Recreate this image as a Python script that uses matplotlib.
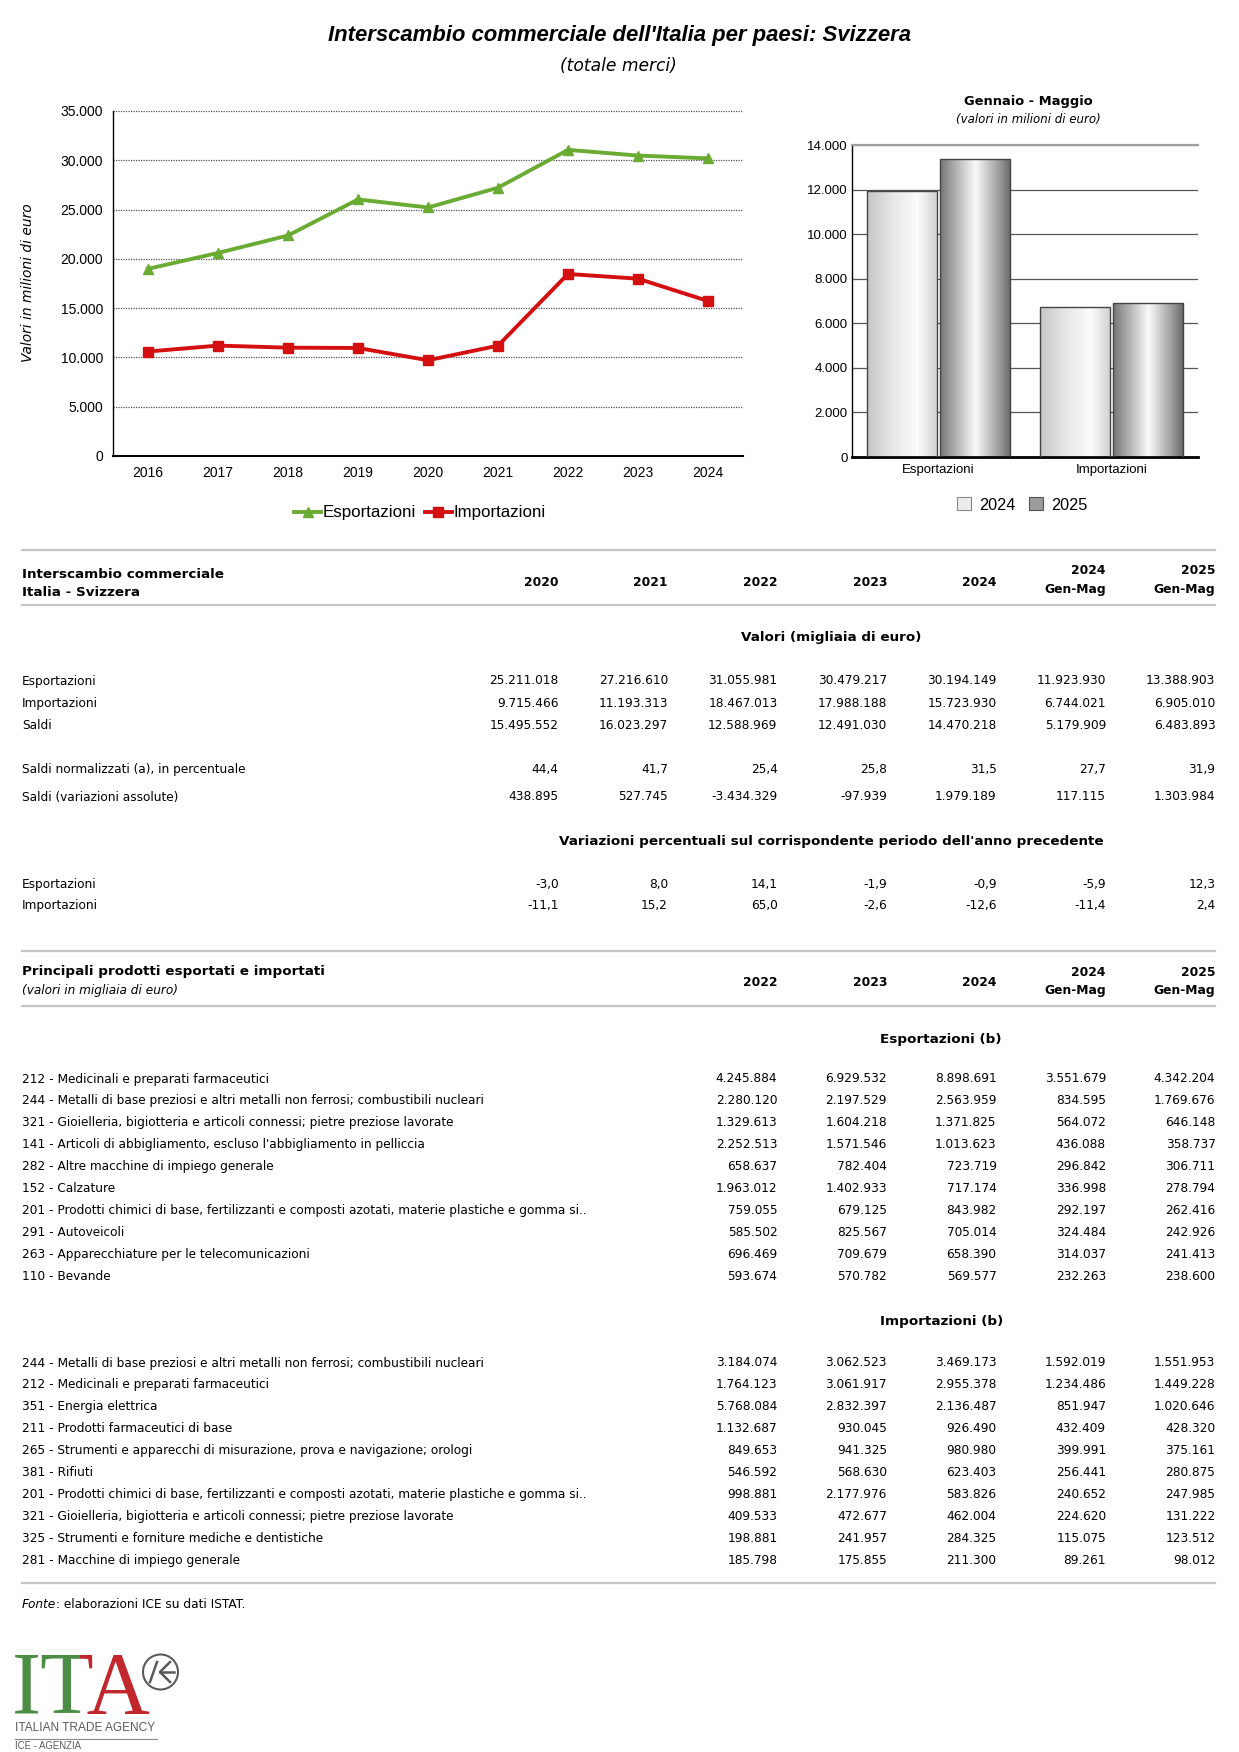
import matplotlib
matplotlib.use("Agg")
import matplotlib.pyplot as plt
import numpy as np
from matplotlib import font_manager
from matplotlib.colors import LinearSegmentedColormap
from matplotlib.patches import Patch, Circle
from matplotlib.lines import Line2D
from matplotlib.ticker import FuncFormatter, MultipleLocator
from matplotlib.transforms import Bbox, TransformedBbox

# ---- dati grafico a linee (milioni di euro) ----
anni = [2016, 2017, 2018, 2019, 2020, 2021, 2022, 2023, 2024]
esp_milioni = [18990, 20600, 22370, 26030, 25211, 27217, 31056, 30479, 30194]
imp_milioni = [10600, 11200, 10990, 10960, 9715, 11193, 18467, 17988, 15724]

# ---- dati grafico a barre Gennaio - Maggio (milioni di euro) ----
flussi = ["Esportazioni", "Importazioni"]
gm_2024 = [11924, 6744]
gm_2025 = [13389, 6905]

# ---- tabella interscambio (migliaia di euro) ----
col_anni = ["2020", "2021", "2022", "2023", "2024", "2024", "2025"]
col_gm = ["", "", "", "", "", "Gen-Mag", "Gen-Mag"]
esportazioni = [25211018, 27216610, 31055981, 30479217, 30194149, 11923930, 13388903]
importazioni = [9715466, 11193313, 18467013, 17988188, 15723930, 6744021, 6905010]
saldi = [15495552, 16023297, 12588969, 12491030, 14470218, 5179909, 6483893]
saldi_norm = [44.4, 41.7, 25.4, 25.8, 31.5, 27.7, 31.9]
saldi_var = [438895, 527745, -3434329, -97939, 1979189, 117115, 1303984]
var_esp = [-3.0, 8.0, 14.1, -1.9, -0.9, -5.9, 12.3]
var_imp = [-11.1, 15.2, 65.0, -2.6, -12.6, -11.4, 2.4]

# ---- principali prodotti (migliaia di euro): 2022, 2023, 2024, 2024 GM, 2025 GM ----
prod_esp = [
    "212 - Medicinali e preparati farmaceutici",
    "244 - Metalli di base preziosi e altri metalli non ferrosi; combustibili nucleari",
    "321 - Gioielleria, bigiotteria e articoli connessi; pietre preziose lavorate",
    "141 - Articoli di abbigliamento, escluso l'abbigliamento in pelliccia",
    "282 - Altre macchine di impiego generale",
    "152 - Calzature",
    "201 - Prodotti chimici di base, fertilizzanti e composti azotati, materie plastiche e gomma si..",
    "291 - Autoveicoli",
    "263 - Apparecchiature per le telecomunicazioni",
    "110 - Bevande",
]
val_esp = [
    [4245884, 6929532, 8898691, 3551679, 4342204],
    [2280120, 2197529, 2563959, 834595, 1769676],
    [1329613, 1604218, 1371825, 564072, 646148],
    [2252513, 1571546, 1013623, 436088, 358737],
    [658637, 782404, 723719, 296842, 306711],
    [1963012, 1402933, 717174, 336998, 278794],
    [759055, 679125, 843982, 292197, 262416],
    [585502, 825567, 705014, 324484, 242926],
    [696469, 709679, 658390, 314037, 241413],
    [593674, 570782, 569577, 232263, 238600],
]
prod_imp = [
    "244 - Metalli di base preziosi e altri metalli non ferrosi; combustibili nucleari",
    "212 - Medicinali e preparati farmaceutici",
    "351 - Energia elettrica",
    "211 - Prodotti farmaceutici di base",
    "265 - Strumenti e apparecchi di misurazione, prova e navigazione; orologi",
    "381 - Rifiuti",
    "201 - Prodotti chimici di base, fertilizzanti e composti azotati, materie plastiche e gomma si..",
    "321 - Gioielleria, bigiotteria e articoli connessi; pietre preziose lavorate",
    "325 - Strumenti e forniture mediche e dentistiche",
    "281 - Macchine di impiego generale",
]
val_imp = [
    [3184074, 3062523, 3469173, 1592019, 1551953],
    [1764123, 3061917, 2955378, 1234486, 1449228],
    [5768084, 2832397, 2136487, 851947, 1020646],
    [1132687, 930045, 926490, 432409, 428320],
    [849653, 941325, 980980, 399991, 375161],
    [546592, 568630, 623403, 256441, 280875],
    [998881, 2177976, 583826, 240652, 247985],
    [409533, 472677, 462004, 224620, 131222],
    [198881, 241957, 284325, 115075, 123512],
    [185798, 175855, 211300, 89261, 98012],
]


def fmt_int(v):
    return f"{v:,}".replace(",", ".")


def fmt_dec(v):
    return f"{v:.1f}".replace(".", ",")


W, H = 1239, 1752


def fx(x):
    return x / W


def fy(y):
    return 1 - y / H


nomi = {f.name for f in font_manager.fontManager.ttflist}
TITLE_FONT = "Liberation Sans Narrow" if "Liberation Sans Narrow" in nomi else "Liberation Sans"
CHART_FONT = "Liberation Sans"
TAB_FONT = "DejaVu Sans"
FS = 8.7      # testo normale tabella
FSB = 9.7     # titoli in grassetto (il Verdana bold e' piu' largo)
FSH = 8.9     # intestazioni colonne

fig = plt.figure(figsize=(W / 100, H / 100), dpi=100)
fig.patch.set_facecolor("white")

# titolo
fig.text(fx(619), fy(35), "Interscambio commerciale dell'Italia per paesi: Svizzera",
         ha="center", va="center", fontsize=15.9, fontweight="bold", style="italic",
         family=TITLE_FONT)
fig.text(fx(618), fy(66), "(totale merci)", ha="center", va="center", fontsize=12.3,
         style="italic", family=TAB_FONT)

milesimi = FuncFormatter(lambda v, p: fmt_int(int(v)))

# ---- grafico a linee ----
VERDE_L, ROSSO_L = "#6aab34", "#d40f0f"
ax = fig.add_axes([fx(113), fy(456), (743 - 113) / W, (456 - 111) / H])
x = np.arange(len(anni))
ax.plot(x, esp_milioni, color=VERDE_L, lw=2.8, marker="^", ms=7.5, label="Esportazioni", zorder=3)
ax.plot(x, imp_milioni, color=ROSSO_L, lw=2.8, marker="s", ms=6.5, label="Importazioni", zorder=3)
ax.set_xlim(-0.5, 8.5)
ax.set_ylim(0, 35000)
ax.yaxis.set_major_locator(MultipleLocator(5000))
ax.yaxis.set_major_formatter(milesimi)
ax.set_xticks(x)
ax.set_xticklabels([str(a) for a in anni])
ax.grid(axis="y", color="#555555", lw=0.9, linestyle=(0, (1, 1)))
ax.set_axisbelow(True)
for s in ["top", "right"]:
    ax.spines[s].set_visible(False)
ax.spines["left"].set_linewidth(1.0)
ax.spines["bottom"].set_linewidth(1.5)
ax.tick_params(axis="both", length=0, labelsize=10)
ax.tick_params(axis="y", pad=7)
ax.tick_params(axis="x", pad=7)
for lab in ax.get_xticklabels() + ax.get_yticklabels():
    lab.set_family(CHART_FONT)
fig.text(fx(28), fy(283), "Valori in milioni di euro", rotation=90, ha="center", va="center",
         fontsize=9.9, style="italic", family=TAB_FONT)
h_lin = [Line2D([], [], color=VERDE_L, lw=2.8, marker="^", ms=7.5),
         Line2D([], [], color=ROSSO_L, lw=2.8, marker="s", ms=6.5)]
fig.legend(h_lin, ["Esportazioni", "Importazioni"], loc="center", bbox_to_anchor=(fx(420), fy(513)),
           ncol=2, frameon=False, handlelength=1.6, handletextpad=0.1, columnspacing=0.5,
           prop={"family": CHART_FONT, "size": 12.2})

# ---- grafico a barre ----
bx = fig.add_axes([fx(852), fy(457), (1198 - 852) / W, (457 - 145) / H])
xb = np.arange(len(flussi))
w = 0.406
cm24 = LinearSegmentedColormap.from_list(
    "g24", [(0, "#c6c6c6"), (0.35, "#e6e6e6"), (0.72, "#fcfcfc"), (1, "#cfcfcf")])
cm25 = LinearSegmentedColormap.from_list(
    "g25", [(0, "#767676"), (0.18, "#a6a6a6"), (0.5, "#fafafa"), (0.82, "#a0a0a0"), (1, "#686868")])
grad = np.linspace(0, 1, 256).reshape(1, -1)
for vals, off, cm in [(gm_2024, -0.209, cm24), (gm_2025, 0.209, cm25)]:
    bars = bx.bar(xb + off, vals, w, facecolor="none", edgecolor="#444444", lw=1.0, zorder=3)
    for b in bars:
        im = bx.imshow(grad, cmap=cm, aspect="auto", zorder=2.5,
                       extent=[b.get_x(), b.get_x() + b.get_width(), 0, b.get_height()])
        im.set_clip_path(b)
bx.set_xlim(-0.5, 1.5)
bx.set_ylim(0, 14000)
bx.yaxis.set_major_locator(MultipleLocator(2000))
bx.yaxis.set_major_formatter(milesimi)
bx.set_xticks(xb)
bx.set_xticklabels(flussi)
bx.grid(axis="y", color="#555555", lw=0.9)
bx.set_axisbelow(True)
bx.spines["right"].set_visible(False)
bx.spines["top"].set_color("#a0a0a0")
bx.spines["top"].set_linewidth(1.6)
bx.spines["left"].set_linewidth(1.0)
bx.spines["bottom"].set_linewidth(2.0)
bx.tick_params(axis="both", length=0, labelsize=9.5)
bx.tick_params(axis="y", pad=3)
bx.tick_params(axis="x", pad=5)
for lab in bx.get_xticklabels() + bx.get_yticklabels():
    lab.set_family(CHART_FONT)
fig.text(fx(1028), fy(101), "Gennaio - Maggio", ha="center", va="center", fontsize=9.4,
         fontweight="bold", family=TAB_FONT)
fig.text(fx(1028), fy(119.5), "(valori in milioni di euro)", ha="center", va="center",
         fontsize=8.5, style="italic", family=TAB_FONT)
h_bar = [Patch(facecolor="#ececec", edgecolor="#888888", lw=0.8),
         Patch(facecolor="#9c9c9c", edgecolor="#555555", lw=0.8)]
fig.legend(h_bar, ["2024", "2025"], loc="center", bbox_to_anchor=(fx(1022), fy(505)), ncol=2,
           frameon=False, handlelength=0.86, handleheight=0.86, handletextpad=0.5,
           columnspacing=0.86, prop={"family": CHART_FONT, "size": 11.7})

# ---- tabelle ----
TAB_L, TAB_R = 22, 1215
col_r = [558.5 + 109.5 * i for i in range(7)]
LINE_C = "#c6c6c6"


def riga(y):
    fig.add_artist(Line2D([fx(TAB_L), fx(TAB_R)], [fy(y), fy(y)], color=LINE_C, lw=1.6))


def testo(x, y, s, ha="left", size=FS, **kw):
    return fig.text(fx(x), fy(y), s, ha=ha, va="center", fontsize=size, family=TAB_FONT, **kw)


def intestazioni(cols, y_mid, y1, y2):
    for i in cols:
        if col_gm[i]:
            testo(col_r[i], y1, col_anni[i], ha="right", size=FSH, fontweight="bold")
            testo(col_r[i], y2, col_gm[i], ha="right", size=FSH, fontweight="bold")
        else:
            testo(col_r[i], y_mid, col_anni[i], ha="right", size=FSH, fontweight="bold")


riga(550)
testo(TAB_L, 574, "Interscambio commerciale", size=FSB, fontweight="bold")
testo(TAB_L, 593, "Italia - Svizzera", size=FSB, fontweight="bold")
intestazioni(range(7), 582.5, 571, 590)
riga(605)

testo(831, 638, "Valori (migliaia di euro)", ha="center", size=FSB, fontweight="bold")
righe1 = [("Esportazioni", esportazioni, fmt_int, 681),
          ("Importazioni", importazioni, fmt_int, 703),
          ("Saldi", saldi, fmt_int, 725),
          ("Saldi normalizzati (a), in percentuale", saldi_norm, fmt_dec, 769),
          ("Saldi (variazioni assolute)", saldi_var, fmt_int, 797)]
for nome, vals, f, y in righe1:
    testo(TAB_L, y, nome)
    for i, v in enumerate(vals):
        testo(col_r[i], y, f(v), ha="right")

testo(831, 841, "Variazioni percentuali sul corrispondente periodo dell'anno precedente",
      ha="center", size=FSB, fontweight="bold")
for nome, vals, y in [("Esportazioni", var_esp, 884), ("Importazioni", var_imp, 906)]:
    testo(TAB_L, y, nome)
    for i, v in enumerate(vals):
        testo(col_r[i], y, fmt_dec(v), ha="right")

riga(951)
testo(TAB_L, 972, "Principali prodotti esportati e importati", size=FSB, fontweight="bold")
testo(TAB_L, 990, "(valori in migliaia di euro)", style="italic")
intestazioni(range(2, 7), 982, 972, 990)
riga(1006)

testo(941, 1039, "Esportazioni (b)", ha="center", size=FSB, fontweight="bold")
for k, (nome, vals) in enumerate(zip(prod_esp, val_esp)):
    y = 1079 + k * 21.9
    testo(TAB_L, y, nome)
    for i, v in enumerate(vals):
        testo(col_r[i + 2], y, fmt_int(v), ha="right")

testo(942, 1321, "Importazioni (b)", ha="center", size=FSB, fontweight="bold")
for k, (nome, vals) in enumerate(zip(prod_imp, val_imp)):
    y = 1363 + k * 21.95
    testo(TAB_L, y, nome)
    for i, v in enumerate(vals):
        testo(col_r[i + 2], y, fmt_int(v), ha="right")
riga(1583)

t_fonte = testo(TAB_L, 1605, "Fonte", style="italic")
rend = fig.canvas.get_renderer()
x_after = t_fonte.get_window_extent(rend).x1
fig.text(x_after / W, fy(1605), ": elaborazioni ICE su dati ISTAT.", ha="left", va="center",
         fontsize=FS, family=TAB_FONT)

# ---- logo ITA ----
lg = fig.add_axes([0, 0, 200 / W, 110 / H])
lg.set_xlim(0, 200)
lg.set_ylim(1752, 1642)
lg.axis("off")
verde, rosso, grigio = "#4b8d45", "#c1272d", "#5a5a5a"
for col, (a, b) in [(verde, (0, 80)), (rosso, (80, 200))]:
    t = lg.text(12, 1713, "ITA", color=col, fontsize=63, family="Liberation Serif", va="baseline")
    t.set_clip_on(True)
    t.set_clip_box(TransformedBbox(Bbox([[a, 1642], [b, 1720]]), lg.transData))
lg.add_patch(Circle((160.5, 1672), 17.5, facecolor="none", edgecolor=grigio, lw=1.5))
lg.plot([150, 157], [1682, 1662], color=grigio, lw=1.8)
lg.plot([170, 160, 170], [1662, 1672, 1682], color=grigio, lw=1.8)
lg.plot([160, 174], [1672, 1672], color=grigio, lw=1.8)
lg.text(15, 1728, "ITALIAN TRADE AGENCY", color=grigio, fontsize=8.6, family=CHART_FONT,
        va="center", ha="left")
lg.plot([15, 157], [1739, 1739], color="#888888", lw=0.8)
lg.text(15, 1746, "ICE - AGENZIA", color=grigio, fontsize=6.9, family=CHART_FONT,
        va="center", ha="left")

fig.savefig("out.png", dpi=100)
